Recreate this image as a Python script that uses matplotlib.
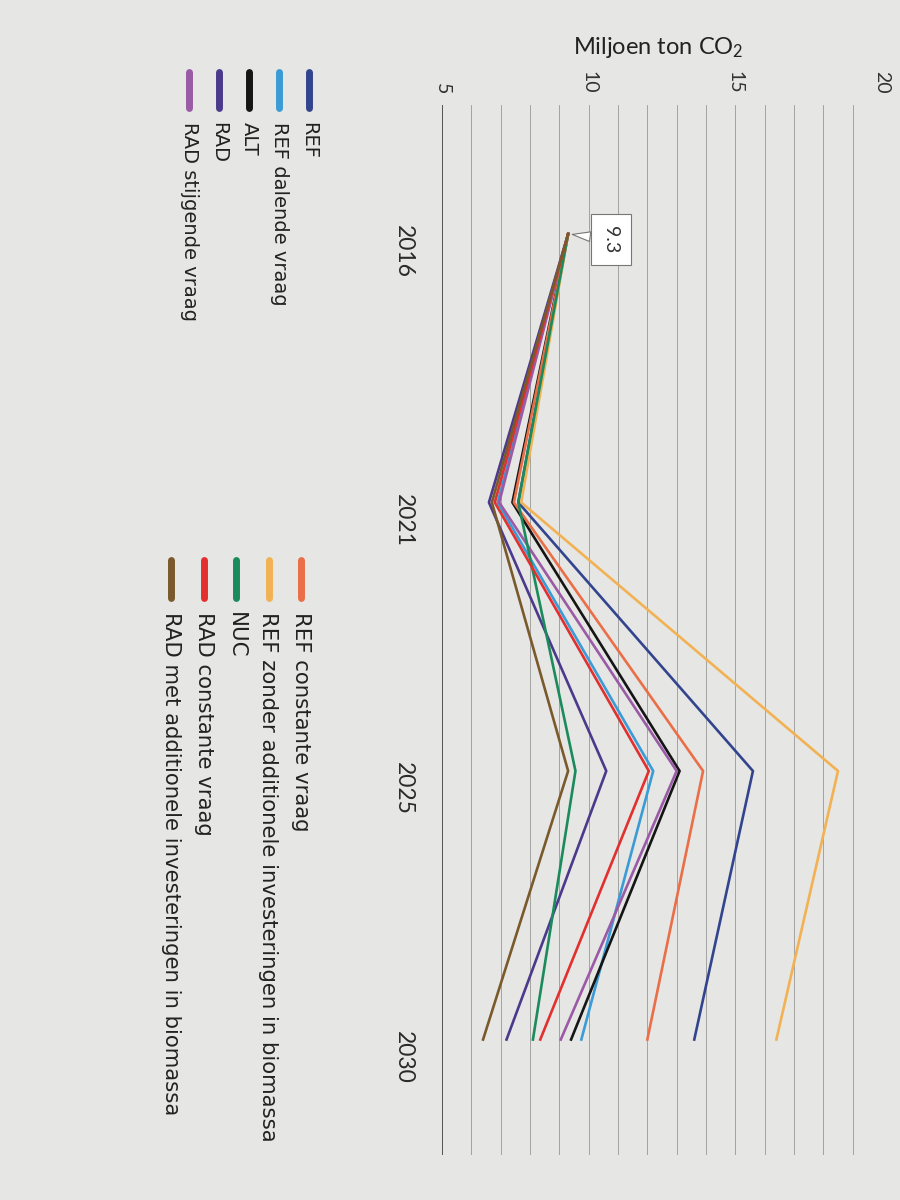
import matplotlib
matplotlib.use('Agg')
import matplotlib.pyplot as plt
from matplotlib.lines import Line2D
import numpy as np

plt.rcParams['font.family'] = ['Lato', 'DejaVu Sans']
plt.rcParams['mathtext.default'] = 'regular'

# data (Mton CO2)
years = ['2016', '2021', '2025', '2030']
ref = [9.3, 7.6, 15.6, 13.6]
ref_dalend = [9.3, 6.9, 12.2, 9.75]
alt = [9.3, 7.4, 13.1, 9.4]
rad = [9.3, 6.6, 10.6, 7.2]
rad_stijgend = [9.3, 6.95, 13.0, 9.05]
ref_constant = [9.3, 7.45, 13.9, 12.0]
ref_zonder_bio = [9.3, 7.7, 18.5, 16.4]
nuc = [9.3, 7.6, 9.55, 8.1]
rad_constant = [9.3, 6.8, 12.05, 8.35]
rad_met_bio = [9.3, 6.7, 9.3, 6.4]

labels_left = ["REF", "REF dalende vraag", "ALT", "RAD", "RAD stijgende vraag"]
labels_right = ["REF constante vraag",
                "REF zonder additionele investeringen in biomassa",
                "NUC", "RAD constante vraag",
                "RAD met additionele investeringen in biomassa"]
values_left = [ref, ref_dalend, alt, rad, rad_stijgend]
values_right = [ref_constant, ref_zonder_bio, nuc, rad_constant, rad_met_bio]
colors_left = ['#33448f', '#3b9bd6', '#151515', '#4b3a8c', '#9a5aa6']
colors_right = ['#ea6f48', '#f2b254', '#1b8a5c', '#e2302f', '#7a5a2c']

bg = '#e6e6e4'
W, H = 900, 1200

fig = plt.figure(figsize=(9, 12), dpi=100, facecolor=bg)
# the page is photographed turned a quarter turn: years run downwards,
# values run to the right
ax = fig.add_axes([442 / W, 1 - 1155 / H, 440 / W, 1050 / H])
ax.set_facecolor(bg)

pos = np.arange(len(years))
for vals, col in zip(values_left + values_right, colors_left + colors_right):
    ax.plot(vals, pos, color=col, lw=1.9, zorder=3)

ax.set_xlim(5, 20)
ax.set_ylim(3.43, -0.48)

for v in range(5, 21):
    if v == 5:
        ax.axvline(v, color='#3a3a3a', lw=1.2, zorder=1)
    else:
        ax.axvline(v, color='#909090', lw=0.55, zorder=1)

for s in ax.spines.values():
    s.set_visible(False)

ax.xaxis.tick_top()
ax.set_xticks([5, 10, 15, 20])
ax.set_yticks(pos)
ax.set_yticklabels(years)
ax.tick_params(axis='x', length=0, pad=8, labelsize=14, labelrotation=-90,
               colors='#333333')
ax.tick_params(axis='y', length=0, pad=20, labelsize=16.5, labelrotation=-90,
               colors='#2a2a2a')

fig.text(658 / W, 1 - 48 / H, "Miljoen ton CO$_2$", ha='center', va='center',
         fontsize=17, color='#222222')

ax.annotate("9.3", xy=(ref[0], 0), xytext=(10.75, 0.02),
            rotation=-90, ha='center', va='center', fontsize=14,
            color='#333333', zorder=5,
            bbox=dict(boxstyle='square,pad=0.6', fc='white', ec='#777777', lw=0.8),
            arrowprops=dict(arrowstyle='wedge,tail_width=0.5', fc='white',
                            ec='#777777', lw=0.8, shrinkA=0, shrinkB=3))

# legend, two columns
def legend_column(labels, colors, x0, step, y_bar0, y_bar1, y_text, size):
    for i, (lab, col) in enumerate(zip(labels, colors)):
        x = (x0 - step * i) / W
        fig.add_artist(Line2D([x, x], [1 - y_bar0 / H, 1 - y_bar1 / H],
                              transform=fig.transFigure, color=col, lw=5,
                              solid_capstyle='round'))
        fig.text(x, 1 - y_text / H, lab, rotation=-90, rotation_mode='anchor',
                 ha='left', va='center', fontsize=size, color='#222222',
                 family='DejaVu Sans')

legend_column(labels_left, colors_left, 309, 30, 72, 108, 122, 14)
legend_column(labels_right, colors_right, 301, 32.5, 560, 598, 612, 15.3)

fig.savefig("out.png", dpi=100, facecolor=bg)
